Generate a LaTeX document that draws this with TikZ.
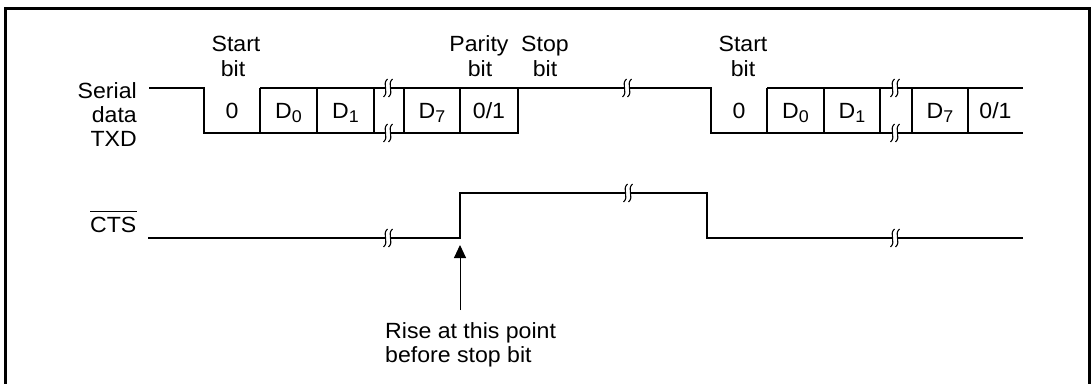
\documentclass[tikz,border=0pt]{standalone}
\usepackage{fontspec}
\setmainfont[FakeStretch=1.05]{Liberation Sans}
\usetikzlibrary{arrows.meta}
\newcommand\Dsub[1]{D\raisebox{-4pt}{\fontsize{17}{17}\selectfont #1}}
\newcommand\brkmark[2]{%
  \fill[white] ({#1-0.5},{#2-9}) .. controls ({#1-6.5},{#2-4}) and ({#1+1.5},{#2+4}) .. ({#1-4.5},{#2+9})
     -- ({#1+0.5},{#2+9}) .. controls ({#1+6.5},{#2+4}) and ({#1-1.5},{#2-4}) .. ({#1+4.5},{#2-9}) -- cycle;
  \draw[brk] ({#1-0.5},{#2-9}) .. controls ({#1-6.5},{#2-4}) and ({#1+1.5},{#2+4}) .. ({#1-4.5},{#2+9});
  \draw[brk] ({#1+4.5},{#2-9}) .. controls ({#1-1.5},{#2-4}) and ({#1+6.5},{#2+4}) .. ({#1+0.5},{#2+9});
}
\tikzset{
  lbl/.style={inner sep=0pt, anchor=base, font=\fontsize{22}{24}\selectfont},
  sig/.style={line width=1.2pt},
  brk/.style={line width=1.1pt},
  frameline/.style={line width=2.5pt},
}
\begin{document}
\begin{tikzpicture}[x=1pt,y=-1pt]
\useasboundingbox (0,0) rectangle (1091,383);
\fill[white] (0,0) rectangle (1091,383);
\draw[frameline] (5.5,385) -- (5.5,8.5) -- (1089.5,8.5) -- (1089.5,385);

% TXD waveform
\draw[sig] (149,88) -- (204,88) -- (204,133) -- (518,133) -- (518,88) -- (711,88) -- (711,133) -- (1023,133);
\draw[sig] (260,88) -- (518,88);
\draw[sig] (767,88) -- (1023,88);
\foreach \x in {260,317,374,404,460,767,824,880,912,968}
  \draw[sig] (\x,88) -- (\x,133);

% CTS waveform
\draw[sig] (148,238) -- (460,238) -- (460,193) -- (707,193) -- (707,238) -- (1023,238);

% break marks
\brkmark{388}{88}
\brkmark{388}{133}
\brkmark{627}{88}
\brkmark{895}{88}
\brkmark{895}{133}
\brkmark{388}{238}
\brkmark{628}{193}
\brkmark{895}{238}

% labels
\node[lbl, anchor=base east] (ser1) at (137,98) {Serial};
\node[lbl, anchor=base east] (ser2) at (137,122) {data};
\node[lbl, anchor=base east] (ser3) at (137,146) {TXD};

\node[lbl] (sa1) at (236,51) {Start};
\node[lbl] (sb1) at (233,76) {bit};
\node[lbl] (pa) at (479,51) {Parity};
\node[lbl] (pb) at (480,76) {bit};
\node[lbl] (spa) at (545,51) {Stop};
\node[lbl] (spb) at (545,76) {bit};
\node[lbl] (sa2) at (743,51) {Start};
\node[lbl] (sb2) at (743,76) {bit};

\node[lbl] (b0a) at (232,118) {0};
\node[lbl] (b1a) at (288.5,118) {\Dsub{0}};
\node[lbl] (b2a) at (345.5,118) {\Dsub{1}};
\node[lbl] (b3a) at (432,118) {\Dsub{7}};
\node[lbl] (b4a) at (489,118) {0/1};
\node[lbl] (b0b) at (739,118) {0};
\node[lbl] (b1b) at (795.5,118) {\Dsub{0}};
\node[lbl] (b2b) at (852,118) {\Dsub{1}};
\node[lbl] (b3b) at (940,118) {\Dsub{7}};
\node[lbl] (b4b) at (995.5,118) {0/1};

\node[lbl, anchor=base west] (cts) at (90,232) {CTS};
\draw[line width=1.2pt] ([yshift=5pt]cts.north west) -- ([yshift=5pt]cts.north east);

\node[lbl, anchor=base west] (rise1) at (385,338) {Rise at this point};
\node[lbl, anchor=base west] (rise2) at (385,362) {before stop bit};

\coordinate (tail) at (460,310);
\coordinate (tip) at (460,245);
\draw[line width=1pt, -{Triangle[width=12pt,length=13pt]}] (tail) -- (tip);
\end{tikzpicture}
\end{document}
